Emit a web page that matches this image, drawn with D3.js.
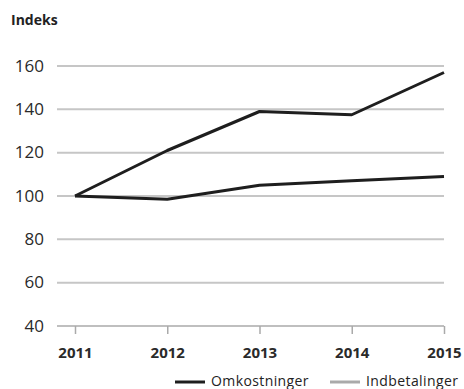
<!DOCTYPE html>
<html><head><meta charset="utf-8">
<script src="https://cdn.jsdelivr.net/npm/d3@7"></script>
<style>body{margin:0;background:#fff}svg{display:block;font-family:"Open Sans",sans-serif}</style>
</head><body><svg id="c" width="464" height="389"></svg>
<script>
const years = [2011, 2012, 2013, 2014, 2015];
const omkostninger = [100, 121, 139, 137.5, 157];
const indbetalinger = [100, 98.5, 105, 107, 109];
const yTicks = [40, 60, 80, 100, 120, 140, 160];
const seriesNames = ["Omkostninger", "Indbetalinger"];

const svg = d3.select("#c");
const x = d3.scalePoint().domain(years).range([75, 444]);
const y = d3.scaleLinear().domain([40, 160]).range([326, 66]);

svg.append("text").attr("x", 11).attr("y", 25).text("Indeks")
  .attr("font-size", 14).attr("font-weight", "bold").attr("fill", "#222");

// grid
svg.append("g").selectAll("line").data(yTicks.filter(d => d > 40)).join("line")
  .attr("x1", 57).attr("x2", 444).attr("y1", d => y(d)).attr("y2", d => y(d))
  .attr("stroke", "#c6c6c6").attr("stroke-width", 2);

// y labels
const ya = svg.append("g").attr("transform", "translate(57,0)")
  .call(d3.axisLeft(y).tickValues(yTicks).tickSize(0).tickPadding(13));
ya.select(".domain").remove();
ya.selectAll("text").attr("font-size", 17).attr("fill", "#2a2a2a").attr("font-family", "Open Sans").attr("dy", "0.3em");

// x axis
const xa = svg.append("g").attr("transform", `translate(0,${y(40)})`)
  .call(d3.axisBottom(x).tickSize(8).tickPadding(13).tickFormat(d3.format("d")));
xa.select(".domain").attr("d", `M57,0H444`).attr("stroke", "#aaa").attr("stroke-width", 1.5);
xa.selectAll(".tick line").attr("stroke", "#aaa").attr("stroke-width", 1.5);
xa.selectAll("text").attr("font-size", 15).attr("font-weight", "bold").attr("fill", "#2a2a2a").attr("font-family", "Open Sans");

const line = d3.line().x((d, i) => x(years[i])).y(d => y(d));
[omkostninger, indbetalinger].forEach(s => {
  svg.append("path").attr("d", line(s)).attr("fill", "none")
    .attr("stroke", "#1e1e1e").attr("stroke-width", 3).attr("stroke-linejoin", "round");
});

// legend
const lg = svg.append("g");
const legItems = [{n: seriesNames[0], c: "#1e1e1e", x: 175}, {n: seriesNames[1], c: "#aaa", x: 330}];
legItems.forEach(it => {
  lg.append("line").attr("x1", it.x).attr("x2", it.x + 30).attr("y1", 382).attr("y2", 382)
    .attr("stroke", it.c).attr("stroke-width", 3);
  lg.append("text").attr("x", it.x + 36).attr("y", 386).text(it.n)
    .attr("font-size", 14).attr("fill", "#222").attr("letter-spacing", "0.4");
});
</script></body></html>
